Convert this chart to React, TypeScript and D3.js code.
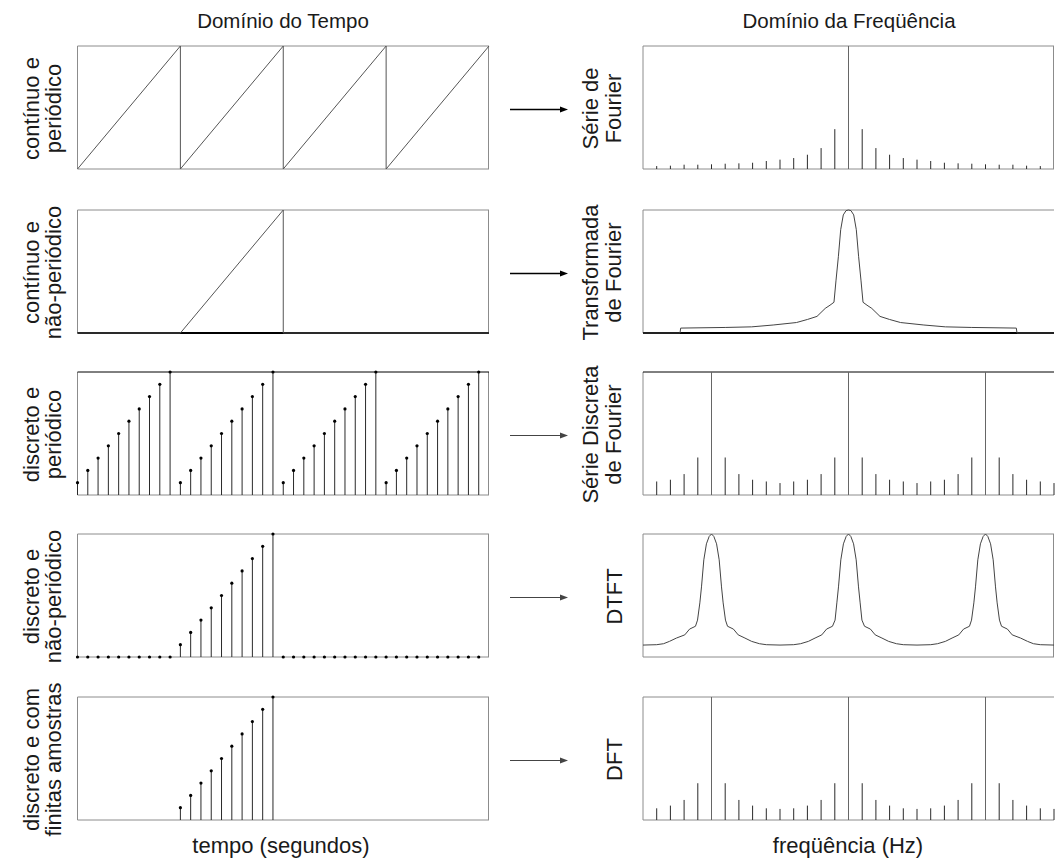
import React from "react";
import * as d3 from "d3";

// ---------- text ----------
const titleTime = "Domínio do Tempo";
const titleFreq = "Domínio da Freqüência";
const xLabelTime = "tempo (segundos)";
const xLabelFreq = "freqüência (Hz)";
const timeRowLabels = [
  ["contínuo e", "periódico"],
  ["contínuo e", "não-periódico"],
  ["discreto e", "periódico"],
  ["discreto e", "não-periódico"],
  ["discreto e com", "finitas amostras"],
];
const freqRowLabels = [
  ["Série de", "Fourier"],
  ["Transformada", "de Fourier"],
  ["Série Discreta", "de Fourier"],
  ["DTFT"],
  ["DFT"],
];

// ---------- time-domain data ----------
const sawT = [0, 10, 10, 20, 20, 30, 30, 40];
const sawV = [0, 10, 0, 10, 0, 10, 0, 10];
const rampT = [0, 10, 20, 20, 40];
const rampV = [0, 0, 10, 0, 0];
const periodicSamples = [
  1, 2, 3, 4, 5, 6, 7, 8, 9, 10,
  1, 2, 3, 4, 5, 6, 7, 8, 9, 10,
  1, 2, 3, 4, 5, 6, 7, 8, 9, 10,
  1, 2, 3, 4, 5, 6, 7, 8, 9, 10,
];
const aperiodicSamples = [
  0, 0, 0, 0, 0, 0, 0, 0, 0, 0,
  1, 2, 3, 4, 5, 6, 7, 8, 9, 10,
  0, 0, 0, 0, 0, 0, 0, 0, 0, 0,
  0, 0, 0, 0, 0, 0, 0, 0, 0, 0,
];
const finiteIndex = [10, 11, 12, 13, 14, 15, 16, 17, 18, 19];
const finiteSamples = [1, 2, 3, 4, 5, 6, 7, 8, 9, 10];

// ---------- frequency-domain data ----------
const seriesK = [-14, -13, -12, -11, -10, -9, -8, -7, -6, -5, -4, -3, -2, -1, 0,
  1, 2, 3, 4, 5, 6, 7, 8, 9, 10, 11, 12, 13, 14];
const seriesMag = [0.24, 0.27, 0.35, 0.35, 0.38, 0.43, 0.46, 0.51, 0.65, 0.76, 0.89, 1.16, 1.7, 3.24, 10,
  3.24, 1.7, 1.16, 0.89, 0.76, 0.65, 0.51, 0.46, 0.43, 0.38, 0.35, 0.35, 0.27, 0.24];

const dfsK = [-14, -13, -12, -11, -10, -9, -8, -7, -6, -5, -4, -3, -2, -1, 0,
  1, 2, 3, 4, 5, 6, 7, 8, 9, 10, 11, 12, 13, 14, 15];
const dfsMag = [1.1, 1.24, 1.7, 3.05, 10, 3.05, 1.7, 1.24, 1.1, 0.97, 1.1, 1.24, 1.7, 3.05, 10,
  3.05, 1.7, 1.24, 1.1, 0.97, 1.1, 1.24, 1.7, 3.05, 10, 3.05, 1.7, 1.24, 1.1, 0.97];
const dftMag = [0.95, 1.17, 1.63, 2.99, 10, 2.99, 1.63, 1.17, 0.95, 0.9, 0.95, 1.17, 1.63, 2.99, 10,
  2.99, 1.63, 1.17, 0.95, 0.9, 0.95, 1.17, 1.63, 2.99, 10, 2.99, 1.63, 1.17, 0.95, 0.9];

const ftU = [-15, -12.3, -12.25, -9, -7.07, -5.5, -3.8, -3.0, -2.3, -1.7, -1.35, -1.06, -0.91, -0.74, -0.57, -0.38, -0.18, 0,
  0.18, 0.38, 0.57, 0.74, 0.91, 1.06, 1.35, 1.7, 2.3, 3.0, 3.8, 5.5, 7.07, 9, 12.25, 12.3, 15];
const ftV = [0, 0, 0.4, 0.45, 0.5, 0.65, 0.85, 1.1, 1.35, 2.0, 2.26, 2.5, 4.3, 6.2, 8.4, 9.6, 9.95, 10,
  9.95, 9.6, 8.4, 6.2, 4.3, 2.5, 2.26, 2.0, 1.35, 1.1, 0.85, 0.65, 0.5, 0.45, 0.4, 0, 0];

const dtftU = [-15, -14, -13.5, -13.07, -12.56, -11.95, -11.6, -11.17, -11.02, -10.85, -10.73, -10.56, -10.37, -10.17, -10,
  -9.83, -9.63, -9.44, -9.27, -9.15, -8.98, -8.83, -8.4, -8.05, -7.56, -7.07, -6.5, -6, -5,
  -4, -3.5, -2.93, -2.44, -1.95, -1.6, -1.17, -0.98, -0.85, -0.73, -0.56, -0.37, -0.17, 0,
  0.17, 0.37, 0.56, 0.73, 0.85, 0.98, 1.17, 1.6, 1.95, 2.44, 2.93, 3.5, 4, 5,
  6, 6.5, 7.07, 7.56, 8.05, 8.4, 8.83, 8.98, 9.15, 9.27, 9.44, 9.63, 9.83, 10,
  10.17, 10.37, 10.56, 10.73, 10.85, 11.02, 11.17, 11.6, 11.95, 12.56, 13.07, 13.5, 14, 15];
const dtftV = [0.97, 1.0, 1.08, 1.27, 1.54, 1.8, 2.27, 2.5, 3.0, 4.4, 5.7, 7.9, 9.2, 9.8, 10,
  9.8, 9.2, 7.9, 5.7, 4.4, 3.0, 2.5, 2.27, 1.8, 1.54, 1.27, 1.08, 1.0, 0.97,
  1.0, 1.08, 1.27, 1.54, 1.8, 2.27, 2.5, 3.0, 4.4, 5.7, 7.9, 9.2, 9.8, 10,
  9.8, 9.2, 7.9, 5.7, 4.4, 3.0, 2.5, 2.27, 1.8, 1.54, 1.27, 1.08, 1.0, 0.97,
  1.0, 1.08, 1.27, 1.54, 1.8, 2.27, 2.5, 3.0, 4.4, 5.7, 7.9, 9.2, 9.8, 10,
  9.8, 9.2, 7.9, 5.7, 4.4, 3.0, 2.5, 2.27, 1.8, 1.54, 1.27, 1.08, 1.0, 0.97];

// ---------- layout ----------
const W = 1055;
const H = 861;
const rowTops = [46, 210, 372, 534, 697];
const panelH = 123;
const timeX0 = 77.5;
const timeX1 = 489;
const freqX0 = 643;
const freqX1 = 1054;
const FONT = "'Liberation Sans', Arial, Helvetica, sans-serif";
const FRAME = "#8c8c8c";
const INK = "#1a1a1a";

const xt = d3.scaleLinear().domain([0, 40]).range([timeX0, timeX1]);
const xf = d3.scaleLinear().domain([-15, 15]).range([freqX0, freqX1]);

function yScale(row: number) {
  return d3.scaleLinear().domain([0, 10]).range([rowTops[row] + panelH, rowTops[row]]);
}

function Frame({ x0, x1, row, right = true, topColor = FRAME, bottomColor = FRAME, bottomW = 1 }: any) {
  const t = rowTops[row];
  const b = t + panelH;
  return (
    <g fill="none">
      <line x1={x0} x2={x0} y1={t} y2={b} stroke={FRAME} />
      {right && <line x1={x1 - 0.5} x2={x1 - 0.5} y1={t} y2={b} stroke={FRAME} />}
      <line x1={x0} x2={x1} y1={t} y2={t} stroke={topColor} />
      <line x1={x0} x2={x1} y1={b} y2={b} stroke={bottomColor} strokeWidth={bottomW} />
    </g>
  );
}

function Stems({ xs, vs, row, scale, dots, color = "#2a2a2a", fullColor = "#2a2a2a" }: any) {
  const y = yScale(row);
  const base = y(0);
  return (
    <g>
      {xs.map((k: number, i: number) => {
        const v = Math.min(vs[i], 10);
        if (v <= 0) return null;
        return <line key={"s" + i} x1={scale(k)} x2={scale(k)} y1={base} y2={y(v)}
          stroke={v >= 10 ? fullColor : color} strokeWidth={1} />;
      })}
      {dots &&
        xs.map((k: number, i: number) => (
          <circle key={"d" + i} cx={scale(k)} cy={y(Math.min(vs[i], 10))} r={1.6} fill="#000" />
        ))}
    </g>
  );
}

function Curve({ xs, vs, row, scale, color = "#3a3a3a", width = 1 }: any) {
  const y = yScale(row);
  const pts: [number, number][] = xs.map((k: number, i: number) => [scale(k), y(vs[i])]);
  const path = d3.line()(pts) || "";
  return <path d={path} fill="none" stroke={color} strokeWidth={width} />;
}

function Arrow({ row, dark }: any) {
  const cy = rowTops[row] + panelH / 2 + 2;
  const x0 = 510;
  const x1 = 568;
  const c = dark ? "#000" : "#444";
  return (
    <g>
      <line x1={x0} x2={x1 - 6} y1={cy} y2={cy} stroke={c} strokeWidth={dark ? 1.6 : 1.1} />
      <path d={`M${x1},${cy} L${x1 - 8},${cy - 3} L${x1 - 8},${cy + 3} Z`} fill={c} />
    </g>
  );
}

function LeftLabel({ row }: any) {
  const cy = rowTops[row] + panelH / 2 + 1;
  const lines = timeRowLabels[row];
  const xs = [39, 61];
  return (
    <g>
      {lines.map((s, i) => (
        <text key={i} transform={`translate(${xs[i]},${cy}) rotate(-90)`} textAnchor="middle"
          fontFamily={FONT} fontSize={22} fill={INK}>{s}</text>
      ))}
    </g>
  );
}

function RightLabel({ row }: any) {
  const cy = rowTops[row] + panelH / 2 + 1;
  const lines = freqRowLabels[row];
  const xs = lines.length === 1 ? [622] : [598, 621];
  return (
    <g>
      {lines.map((s, i) => (
        <text key={i} transform={`translate(${xs[i]},${cy}) rotate(-90)`} textAnchor="middle"
          fontFamily={FONT} fontSize={22} fill={INK}>{s}</text>
      ))}
    </g>
  );
}

export default function App() {
  const idx40 = periodicSamples.map((_, i) => i);
  return (
    <svg width={W} height={H} viewBox={`0 0 ${W} ${H}`}
      style={{ position: "absolute", left: 0, top: 0, background: "#fff" }}>
      <rect x={0} y={0} width={W} height={H} fill="#fff" />
      <text x={283} y={28} textAnchor="middle" fontFamily={FONT} fontSize={20.5} fill={INK}>{titleTime}</text>
      <text x={849} y={28} textAnchor="middle" fontFamily={FONT} fontSize={20.5} fill={INK}>{titleFreq}</text>
      <text x={281} y={853} textAnchor="middle" fontFamily={FONT} fontSize={22} fill={INK}>{xLabelTime}</text>
      <text x={848} y={853} textAnchor="middle" fontFamily={FONT} fontSize={22} fill={INK}>{xLabelFreq}</text>

      {[0, 1, 2, 3, 4].map((r) => <LeftLabel key={"ll" + r} row={r} />)}
      {[0, 1, 2, 3, 4].map((r) => <RightLabel key={"rl" + r} row={r} />)}
      {[0, 1, 2, 3, 4].map((r) => <Arrow key={"ar" + r} row={r} dark={r < 2} />)}

      {/* Row 1 */}
      <Frame x0={timeX0} x1={timeX1} row={0} />
      <Curve xs={sawT} vs={sawV} row={0} scale={xt} color="#555" />
      <Frame x0={freqX0} x1={freqX1} row={0} />
      <Stems xs={seriesK} vs={seriesMag} row={0} scale={xf} fullColor="#666" />

      {/* Row 2 */}
      <Frame x0={timeX0} x1={timeX1} row={1} bottomColor="#000" bottomW={2} />
      <Curve xs={rampT} vs={rampV} row={1} scale={xt} color="#555" />
      <Frame x0={freqX0} x1={freqX1} row={1} right={false} bottomColor="#000" bottomW={2} />
      <Curve xs={ftU} vs={ftV} row={1} scale={xf} color="#444" />

      {/* Row 3 */}
      <Frame x0={timeX0} x1={timeX1} row={2} topColor="#000" />
      <Stems xs={idx40} vs={periodicSamples} row={2} scale={xt} dots />
      <Frame x0={freqX0} x1={freqX1} row={2} right={false} topColor="#000" />
      <Stems xs={dfsK} vs={dfsMag} row={2} scale={xf} fullColor="#666" />

      {/* Row 4 */}
      <Frame x0={timeX0} x1={timeX1} row={3} />
      <Stems xs={idx40} vs={aperiodicSamples} row={3} scale={xt} dots />
      <Frame x0={freqX0} x1={freqX1} row={3} />
      <Curve xs={dtftU} vs={dtftV} row={3} scale={xf} color="#444" />

      {/* Row 5 */}
      <Frame x0={timeX0} x1={timeX1} row={4} />
      <Stems xs={finiteIndex} vs={finiteSamples} row={4} scale={xt} dots />
      <Frame x0={freqX0} x1={freqX1} row={4} right={false} />
      <Stems xs={dfsK} vs={dftMag} row={4} scale={xf} fullColor="#666" />
    </svg>
  );
}
